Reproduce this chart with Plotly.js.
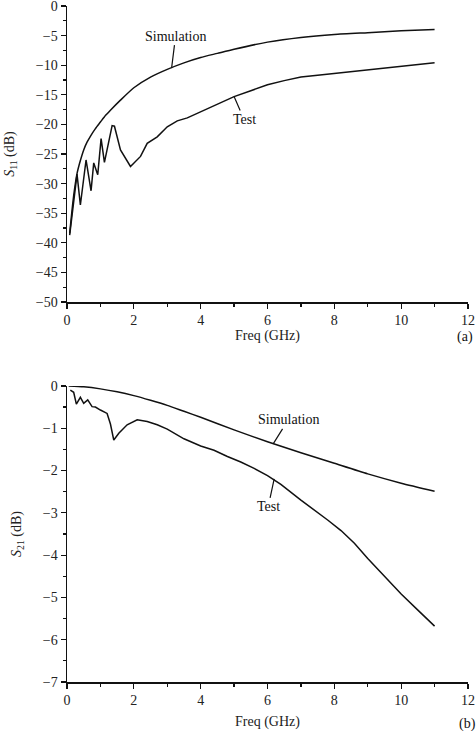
<!DOCTYPE html>
<html>
<head>
<meta charset="utf-8">
<script src="https://cdn.plot.ly/plotly-3.0.1.min.js"></script>
<style>
html,body{margin:0;padding:0;background:#fff;}
#chart{width:476px;height:731px;}
</style>
</head>
<body>
<div id="chart"></div>
<script>
// (a) S11
const s11SimFreq = [0.08,0.15,0.2,0.25,0.3,0.4,0.5,0.6,0.7,0.85,1.0,1.15,1.3,1.6,2.0,2.5,3.0,3.5,4.0,4.5,5.0,6.0,7.0,8.0,9.0,10.0,11.0];
const s11SimDb   = [-38.4,-34.5,-32,-30,-28.3,-26.1,-24.3,-23.0,-22,-20.7,-19.6,-18.5,-17.6,-15.9,-13.8,-12,-10.7,-9.6,-8.7,-8.0,-7.3,-6.1,-5.3,-4.8,-4.5,-4.2,-3.95];
const s11TestFreq = [0.08,0.3,0.4,0.57,0.72,0.8,0.92,1.02,1.12,1.35,1.42,1.6,1.9,2.2,2.4,2.7,3.0,3.3,3.6,4.0,4.4,5.0,5.5,6.0,6.5,7.0,7.5,8.0,8.5,9.0,9.5,10.0,10.5,11.0];
const s11TestDb   = [-38.7,-28.4,-33.6,-26.0,-31.2,-26.5,-28.5,-22.4,-26.4,-20.2,-20.3,-24.3,-27.1,-25.4,-23.2,-22.1,-20.4,-19.4,-18.9,-17.9,-16.8,-15.3,-14.3,-13.3,-12.6,-12.0,-11.7,-11.4,-11.1,-10.8,-10.5,-10.25,-9.9,-9.6];
// (b) S21
const s21SimFreq = [0.05,0.5,1.0,1.5,2.0,2.5,3.0,3.5,4.0,5.0,6.0,7.0,8.0,9.0,10.0,11.0];
const s21SimDb   = [0,-0.02,-0.07,-0.14,-0.23,-0.34,-0.46,-0.6,-0.74,-1.04,-1.32,-1.58,-1.83,-2.08,-2.3,-2.49];
const s21TestFreq = [0.1,0.2,0.28,0.4,0.5,0.62,0.75,0.85,1.0,1.2,1.3,1.4,1.55,1.8,2.1,2.4,2.7,3.0,3.5,4.0,4.4,4.8,5.2,5.6,6.0,6.4,7.0,7.4,7.8,8.2,8.6,9.0,9.5,10.0,10.5,11.0];
const s21TestDb   = [-0.1,-0.15,-0.43,-0.27,-0.41,-0.33,-0.49,-0.5,-0.57,-0.65,-0.9,-1.28,-1.12,-0.92,-0.80,-0.84,-0.92,-1.02,-1.25,-1.42,-1.52,-1.67,-1.8,-1.95,-2.12,-2.33,-2.70,-2.93,-3.17,-3.42,-3.72,-4.08,-4.51,-4.92,-5.3,-5.68];

const xTicks = [0,2,4,6,8,10,12];
const s11Ticks = [0,-5,-10,-15,-20,-25,-30,-35,-40,-45,-50];
const s21Ticks = [0,-1,-2,-3,-4,-5,-6,-7];

const FONT = '"Liberation Serif", "Times New Roman", serif';
const INK = '#111';
const lineStyle = {color: INK, width: 1.5};
const smoothStyle = {color: INK, width: 1.5, shape: 'spline', smoothing: 0.6};

const traces = [
  {x: s11SimFreq, y: s11SimDb, mode: 'lines', line: smoothStyle, xaxis: 'x', yaxis: 'y', name: 'Simulation'},
  {x: s11TestFreq, y: s11TestDb, mode: 'lines', line: lineStyle, xaxis: 'x', yaxis: 'y', name: 'Test'},
  {x: s21SimFreq, y: s21SimDb, mode: 'lines', line: smoothStyle, xaxis: 'x2', yaxis: 'y2', name: 'Simulation'},
  {x: s21TestFreq, y: s21TestDb, mode: 'lines', line: lineStyle, xaxis: 'x2', yaxis: 'y2', name: 'Test'}
];

function xAxis(anchor, standoff) {
  return {
    anchor: anchor, range: [0, 12], tickvals: xTicks, ticktext: xTicks.map(String),
    showline: true, linecolor: INK, linewidth: 1.5, ticks: 'outside', ticklen: 5, tickwidth: 1.2, tickcolor: INK,
    minor: {tickvals: [1,3,5,7,9,11], ticks: 'outside', ticklen: 3, tickwidth: 1.2, tickcolor: INK},
    showgrid: false, zeroline: false, ticklabeloverflow: 'allow',
    tickfont: {family: FONT, size: 14, color: '#222'},
    title: {text: 'Freq (GHz)', font: {family: FONT, size: 14, color: '#222'}, standoff: standoff}
  };
}
function yAxis(anchor, domain, range, ticks, minorStep, title) {
  const minorVals = [];
  for (let v = range[0]; v <= range[1] + 1e-9; v += minorStep) minorVals.push(+v.toFixed(3));
  return {
    anchor: anchor, domain: domain, range: range, tickvals: ticks,
    ticktext: ticks.map(v => v < 0 ? '\u2212' + Math.abs(v) : String(v)),
    showline: true, linecolor: INK, linewidth: 1.5, ticks: 'outside', ticklen: 5, tickwidth: 1.2, tickcolor: INK,
    minor: {tickvals: minorVals, ticks: 'outside', ticklen: 3, tickwidth: 1.2, tickcolor: INK},
    showgrid: false, zeroline: false, ticklabeloverflow: 'allow',
    tickfont: {family: FONT, size: 14, color: '#222'},
    title: {text: title, font: {family: FONT, size: 14, color: '#222'}, standoff: 18}
  };
}

const annFont = {family: FONT, size: 14, color: '#111'};
function label(text, xref, yref, x, y, ax, ay) {
  return {text: text, xref: xref, yref: yref, x: x, y: y, ax: ax, ay: ay,
    showarrow: true, arrowhead: 0, arrowwidth: 1.2, arrowcolor: INK, font: annFont, standoff: 0};
}

const layout = {
  width: 476, height: 731,
  margin: {l: 67, r: 8, t: 6, b: 49},
  paper_bgcolor: '#fff', plot_bgcolor: '#fff',
  showlegend: false,
  xaxis: xAxis('y', 0),
  yaxis: yAxis('x', [0.562, 1], [-50, 0], s11Ticks, 2.5, '<i>S</i><sub>11</sub> (dB)'),
  xaxis2: xAxis('y2', 9),
  yaxis2: yAxis('x2', [0, 0.438], [-7, 0], s21Ticks, 0.5, '<i>S</i><sub>21</sub> (dB)'),
  annotations: [
    label('Simulation', 'x', 'y', 3.13, -10.5, 4, -32),
    label('Test', 'x', 'y', 5.0, -15.3, 10, 23),
    label('Simulation', 'x2', 'y2', 6.17, -1.37, 15, -24),
    label('Test', 'x2', 'y2', 6.2, -2.2, -6, 28),
    {text: '(a)', xref: 'paper', yref: 'paper', x: 0.992, y: 0.511, xanchor: 'center', yanchor: 'middle', showarrow: false, font: annFont},
    {text: '(b)', xref: 'paper', yref: 'paper', x: 0.998, y: -0.062, xanchor: 'center', yanchor: 'middle', showarrow: false, font: annFont}
  ]
};

Plotly.newPlot('chart', traces, layout, {displayModeBar: false, staticPlot: true});
</script>
</body>
</html>
